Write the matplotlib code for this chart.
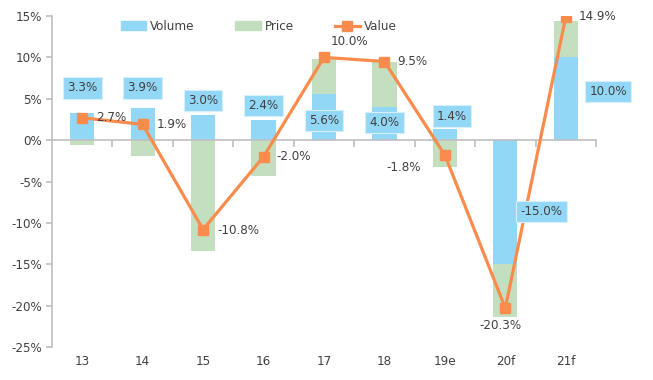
import numpy as np
import matplotlib.pyplot as plt
from matplotlib.patches import Patch
from matplotlib.lines import Line2D

plt.rcParams['font.family'] = ['DejaVu Sans']
plt.rcParams['font.stretch'] = 'condensed'
plt.rcParams['font.size'] = 9.5

years = ['13', '14', '15', '16', '17', '18', '19e', '20f', '21f']
volume = [3.3, 3.9, 3.0, 2.4, 5.6, 4.0, 1.4, -15.0, 10.0]
price = [-0.6, -1.9, -13.4, -4.3, 4.2, 5.4, -3.2, -6.4, 4.4]
value = [2.7, 1.9, -10.8, -2.0, 10.0, 9.5, -1.8, -20.3, 14.9]

# where the volume label boxes sit (x shift in categories, y in %)
vol_lab_dx = [0, 0, 0, 0, 0, 0, 0.12, 0.6, 0.7]
vol_lab_y = [6.3, 6.3, 4.8, 4.2, 2.4, 2.1, 2.9, -8.6, 5.9]
# value label offsets in pixels and alignment
val_lab_off = [(14, 0), (14, 0), (14, -1), (13, 0), (25, 16), (13, 0), (-24, -12), (-5, -17), (13, 0)]
val_lab_ha = ['left', 'left', 'left', 'left', 'center', 'left', 'right', 'center', 'left']

blue = '#93d7f6'
green = '#c3dfbf'
orange = '#f98c4c'
grey = '#bfbfbf'
txt = '#404040'

x = np.arange(len(years))
vol = np.array(volume)
pr = np.array(price)
bottom = np.where(np.sign(pr) == np.sign(vol), vol, 0)

fig = plt.figure(figsize=(6.53, 3.8), dpi=100)
ax = fig.add_axes([0.0796, 0.0868, 0.8331, 0.8711])

ax.bar(x, vol, width=0.4, color=blue, zorder=2)
ax.bar(x, pr, width=0.4, bottom=bottom, color=green, zorder=2)
ax.plot(x, value, color=orange, lw=2.3, marker='s', ms=7.5, zorder=3)

for i in range(len(years)):
    ax.text(x[i] + vol_lab_dx[i], vol_lab_y[i], f'{volume[i]:.1f}%', ha='center', va='center',
            color=txt, zorder=5, clip_on=False,
            bbox=dict(boxstyle='square,pad=0.32', fc=blue, ec='#d6f0fb', lw=0.8))
    ax.annotate(f'{value[i]:.1f}%', (x[i], value[i]), xytext=val_lab_off[i],
                textcoords='offset pixels', ha=val_lab_ha[i], va='center', color=txt,
                zorder=5, annotation_clip=False)

ax.set_xlim(-0.5, len(years) - 0.5)
ax.set_ylim(-25, 15)
ax.set_yticks(np.arange(-25, 16, 5))
ax.set_yticklabels([f'{t}%' for t in range(-25, 16, 5)], color=txt)
ax.tick_params(axis='y', length=4, color=grey, width=1.2, pad=3)

for s in ['top', 'right']:
    ax.spines[s].set_visible(False)
ax.spines['left'].set_color(grey)
ax.spines['left'].set_linewidth(1.2)
ax.spines['bottom'].set_position(('data', 0))
ax.spines['bottom'].set_color(grey)
ax.spines['bottom'].set_linewidth(1.2)
ax.set_xticks(x)
ax.set_xticklabels([])
ax.set_xticks(np.arange(0.5, len(years), 1), minor=True)
ax.tick_params(axis='x', which='major', length=0)
ax.tick_params(axis='x', which='minor', length=5, color=grey, width=1.2)

sec = ax.secondary_xaxis(0.0)
sec.set_xticks(x)
sec.set_xticklabels(years, color=txt)
sec.tick_params(length=0, pad=6)
sec.spines['bottom'].set_visible(False)

handles = [Patch(color=blue), Patch(color=green),
           Line2D([], [], color=orange, lw=2.3, marker='s', ms=7.5)]
ax.legend(handles, ['Volume', 'Price', 'Value'], ncol=3, frameon=False,
          loc='center left', bbox_to_anchor=(0.127, 0.967), borderpad=0, borderaxespad=0,
          handlelength=1.9, handleheight=0.65, handletextpad=0.3, columnspacing=3.1,
          labelcolor=txt)

fig.savefig('out.png', dpi=100)
